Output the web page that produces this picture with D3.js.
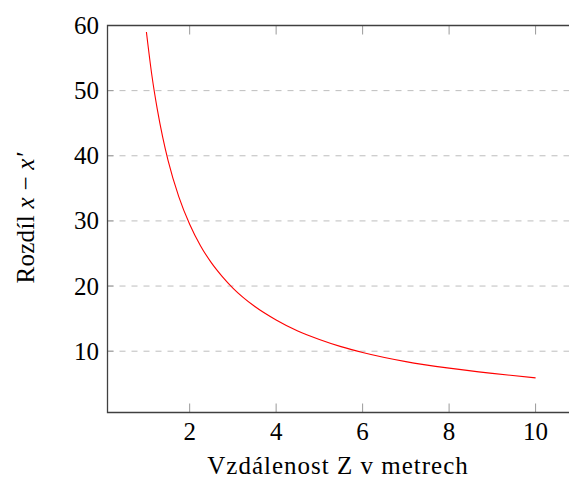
<!DOCTYPE html>
<html>
<head>
<meta charset="utf-8">
<script src="https://cdn.jsdelivr.net/npm/d3@7"></script>
<style>
body { margin:0; background:#fff; }
text { font-family: "Liberation Serif", "DejaVu Serif", serif; }
</style>
</head>
<body>
<div id="figure"></div>
<script>
// distance Z (m) and the measured difference x - x'
var distances = [1, 1.125, 1.25, 1.375, 1.5, 1.75, 2, 2.25, 2.5, 2.75, 3, 3.5, 4, 4.5, 5, 5.5, 6, 7, 8, 9, 10];
var differences = [59, 52.4, 47.2, 42.9, 39.3, 33.7, 29.5, 26.2, 23.6, 21.5, 19.7, 16.9, 14.8, 13.1, 11.8, 10.7, 9.8, 8.4, 7.4, 6.6, 5.9];
var xTicks = [2, 4, 6, 8, 10];
var yTicks = [10, 20, 30, 40, 50, 60];

var W = 569, H = 479;
var pL = 107.5, pR = 574.5, pT = 25.5, pB = 412.5;

var svg = d3.select("#figure").append("svg")
	.attr("width", W).attr("height", H);

var x = d3.scaleLinear().domain([0.1, 10.9]).range([pL, pR]);
var y = d3.scaleLinear().domain([0.59, 60]).range([pB, pT]);

// grid lines
svg.selectAll("line.grid")
	.data(yTicks.filter(function(d) { return d < 60; }))
	.enter().append("line")
	.attr("class", "grid")
	.attr("x1", pL).attr("x2", pR)
	.attr("y1", function(d) { return y(d); })
	.attr("y2", function(d) { return y(d); })
	.attr("stroke", "#bdbdbd")
	.attr("stroke-width", 1)
	.attr("stroke-dasharray", "6,6");

// ticks (inside, gray)
svg.selectAll("line.xt")
	.data(xTicks)
	.enter().append("line")
	.attr("x1", function(d) { return x(d); })
	.attr("x2", function(d) { return x(d); })
	.attr("y1", pB).attr("y2", pB - 9)
	.attr("stroke", "#9a9a9a").attr("stroke-width", 1);
svg.selectAll("line.xtt")
	.data(xTicks)
	.enter().append("line")
	.attr("x1", function(d) { return x(d); })
	.attr("x2", function(d) { return x(d); })
	.attr("y1", pT).attr("y2", pT + 9)
	.attr("stroke", "#9a9a9a").attr("stroke-width", 1);
svg.selectAll("line.yt")
	.data(yTicks)
	.enter().append("line")
	.attr("x1", pL).attr("x2", pL + 6)
	.attr("y1", function(d) { return y(d); })
	.attr("y2", function(d) { return y(d); })
	.attr("stroke", "#9a9a9a").attr("stroke-width", 1);

// curve
var line = d3.line()
	.x(function(d) { return x(d[0]); })
	.y(function(d) { return y(d[1]); })
	.curve(d3.curveMonotoneX);

svg.append("path")
	.datum(d3.zip(distances, differences))
	.attr("d", line)
	.attr("fill", "none")
	.attr("stroke", "#ff0000")
	.attr("stroke-width", 1.1);

// frame
svg.append("path")
	.attr("d", "M" + pR + "," + pT + "H" + pL + "V" + pB + "H" + pR)
	.attr("fill", "none")
	.attr("stroke", "#404040")
	.attr("stroke-width", 1.3);

// tick labels
svg.selectAll("text.xl")
	.data(xTicks)
	.enter().append("text")
	.attr("x", function(d) { return x(d); })
	.attr("y", 440)
	.attr("text-anchor", "middle")
	.attr("font-size", "25px")
	.text(function(d) { return d; });

svg.selectAll("text.yl")
	.data(yTicks)
	.enter().append("text")
	.attr("x", 99)
	.attr("y", function(d) { return y(d) + 8.5; })
	.attr("text-anchor", "end")
	.attr("font-size", "25px")
	.text(function(d) { return d; });

// axis labels
svg.append("text")
	.attr("x", 338)
	.attr("y", 474)
	.attr("text-anchor", "middle")
	.attr("font-size", "25px")
	.attr("letter-spacing", "1px")
	.text("Vzdálenost Z v metrech");

var yl = svg.append("text")
	.attr("transform", "translate(34,218)rotate(-90)")
	.attr("text-anchor", "middle")
	.attr("font-size", "25px")
	.attr("letter-spacing", "0.3px");
yl.append("tspan").text("Rozdíl ");
yl.append("tspan").attr("font-style", "italic").text("x");
yl.append("tspan").text(" − ");
yl.append("tspan").attr("font-style", "italic").text("x′");
</script>
</body>
</html>
